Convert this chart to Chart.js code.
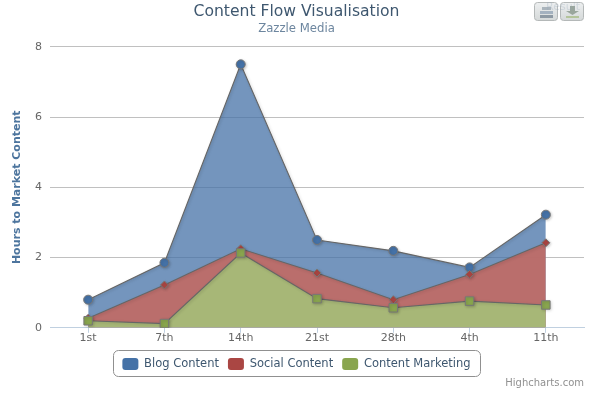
<!DOCTYPE html>
<html>
<head>
<meta charset="utf-8">
<title>Content Flow Visualisation</title>
<script src="https://cdn.jsdelivr.net/npm/chart.js@4"></script>
<style>
    html, body { margin: 0; padding: 0; background: #fff; }
    #wrap { width: 593px; height: 393px; position: relative; }
</style>
</head>
<body>
<div id="wrap"><canvas id="chart" width="593" height="393"></canvas></div>
<script>
const weeks = ['1st', '7th', '14th', '21st', '28th', '4th', '11th'];
const blogContent = [0.8, 1.85, 7.5, 2.5, 2.19, 1.72, 3.22];
const socialContent = [0.27, 1.22, 2.25, 1.56, 0.8, 1.52, 2.42];
const contentMarketing = [0.2, 0.12, 2.13, 0.83, 0.57, 0.76, 0.65];
const yTicks = [0, 2, 4, 6, 8];

const FONT = '"DejaVu Sans", sans-serif';

// Ombre sous les lignes, le remplissage passe avant (plugin filler)
const lineShadow = {
    id: 'lineShadow',
    beforeDatasetDraw(chart) {
        const { ctx } = chart;
        ctx.shadowColor = 'rgba(0,0,0,0.2)';
        ctx.shadowBlur = 3;
        ctx.shadowOffsetX = 1;
        ctx.shadowOffsetY = 1;
    },
    afterDatasetDraw(chart) {
        const { ctx } = chart;
        ctx.shadowColor = 'transparent';
        ctx.shadowBlur = 0;
        ctx.shadowOffsetX = 0;
        ctx.shadowOffsetY = 0;
    },
};

const legendBorder = {
    id: 'legendBorder',
    afterDraw(chart) {
        const { ctx } = chart;
        ctx.save();
        ctx.beginPath();
        ctx.roundRect(113.5, 350.5, 367, 26, 5);
        ctx.strokeStyle = '#909090';
        ctx.lineWidth = 1;
        ctx.stroke();
        ctx.restore();
    },
};

const credits = {
    id: 'credits',
    afterDraw(chart) {
        const { ctx } = chart;
        ctx.save();
        ctx.font = '10px ' + FONT;
        ctx.fillStyle = '#909090';
        ctx.textAlign = 'right';
        ctx.textBaseline = 'middle';
        ctx.fillText('Highcharts.com', 584, 383);
        ctx.restore();
    },
};

// Boutons imprimer / exporter en haut a droite
const exportButtons = {
    id: 'exportButtons',
    afterDraw(chart) {
        const { ctx } = chart;
        ctx.save();
        [535, 561].forEach(x => {
            const g = ctx.createLinearGradient(0, 2, 0, 21);
            g.addColorStop(0, '#eef0f1');
            g.addColorStop(1, '#d4d8d8');
            ctx.beginPath();
            ctx.roundRect(x - 0.5, 2.5, 23, 18, 3);
            ctx.fillStyle = g;
            ctx.fill();
            ctx.strokeStyle = '#b4b8b8';
            ctx.stroke();
        });
        // imprimante
        ctx.fillStyle = '#aab4bc';
        ctx.fillRect(542, 7, 9, 3);
        ctx.fillStyle = '#a4b2c0';
        ctx.fillRect(540, 11, 13, 3);
        ctx.fillStyle = '#8e9aa4';
        ctx.fillRect(540, 15, 13, 3);
        // telechargement
        ctx.fillStyle = '#9aa69c';
        ctx.fillRect(570, 6, 5, 5);
        ctx.beginPath();
        ctx.moveTo(566, 11);
        ctx.lineTo(579, 11);
        ctx.lineTo(572.5, 15);
        ctx.closePath();
        ctx.fill();
        ctx.fillStyle = '#b4c49a';
        ctx.fillRect(566, 16, 13, 2);
        ctx.font = '11px ' + FONT;
        ctx.fillStyle = 'rgba(150,165,185,0.3)';
        ctx.textAlign = 'center';
        ctx.textBaseline = 'middle';
        ctx.fillText('Result', 563, 7);
        ctx.restore();
    },
};

function areaSeries(label, data, solid, fill, pointStyle, pointRadius, order) {
    return {
        label,
        data,
        order,
        backgroundColor: solid,
        fill: { target: 'origin', above: fill },
        borderColor: '#666',
        borderWidth: 1.1,
        tension: 0,
        pointStyle,
        pointRadius,
        pointHoverRadius: pointRadius,
        pointBackgroundColor: solid,
        pointBorderColor: '#777',
        pointBorderWidth: 1,
    };
}

new Chart(document.getElementById('chart'), {
    type: 'line',
    plugins: [lineShadow, legendBorder, credits, exportButtons],
    data: {
        labels: weeks,
        datasets: [
            areaSeries('Blog Content', blogContent, '#4572A7', 'rgba(69,114,167,0.75)', 'circle', 4.5, 3),
            areaSeries('Social Content', socialContent, '#AA4643', 'rgba(194,106,100,0.9)', 'rectRot', 4, 2),
            areaSeries('Content Marketing', contentMarketing, '#89A54E', 'rgba(165,192,121,0.9)', 'rect', 6, 1),
        ],
    },
    options: {
        responsive: false,
        animation: false,
        layout: { padding: { top: 3, right: 0, bottom: 13, left: 0 } },
        plugins: {
            title: {
                display: true,
                text: 'Content Flow Visualisation',
                color: '#3E576F',
                font: { family: FONT, size: 15.6, weight: 'normal' },
                padding: { top: 0, bottom: 0 },
            },
            subtitle: {
                display: true,
                text: 'Zazzle Media',
                color: '#6D869F',
                font: { family: FONT, size: 11.7, weight: 'normal' },
                padding: { top: 0, bottom: 11 },
            },
            legend: {
                position: 'bottom',
                labels: {
                    color: '#3E576F',
                    font: { family: FONT, size: 11.5 },
                    boxWidth: 16,
                    boxHeight: 12,
                    padding: 9,
                    useBorderRadius: true,
                    borderRadius: 3,
                    sort: (a, b) => a.datasetIndex - b.datasetIndex,
                    generateLabels(chart) {
                        return Chart.defaults.plugins.legend.labels.generateLabels(chart).map(item => ({
                            ...item,
                            fillStyle: chart.data.datasets[item.datasetIndex].backgroundColor,
                            lineWidth: 0,
                        }));
                    },
                },
            },
            tooltip: { enabled: false },
        },
        scales: {
            x: {
                offset: true,
                afterFit(scale) {
                    scale.height += 5;
                    scale.paddingRight = 9;
                },
                grid: { drawOnChartArea: false, drawTicks: true, tickLength: 5, tickColor: '#C0D0E0' },
                border: { color: '#C0D0E0', width: 1 },
                ticks: { color: '#666', font: { family: FONT, size: 11 }, padding: -1, maxRotation: 0 },
            },
            y: {
                min: 0,
                max: 8,
                afterFit(scale) { scale.width = 50; },
                afterBuildTicks(scale) { scale.ticks = yTicks.map(value => ({ value })); },
                title: {
                    display: true,
                    text: 'Hours to Market Content',
                    color: '#4D759E',
                    font: { family: FONT, size: 11, weight: 'bold' },
                    padding: { top: 11, bottom: 0 },
                },
                grid: {
                    color: c => (c.tick && c.tick.value === 0 ? '#C0D0E0' : '#C0C0C0'),
                    tickLength: 0,
                },
                border: { display: false },
                ticks: { color: '#666', font: { family: FONT, size: 11 }, padding: 8 },
            },
        },
    },
});
</script>
</body>
</html>
